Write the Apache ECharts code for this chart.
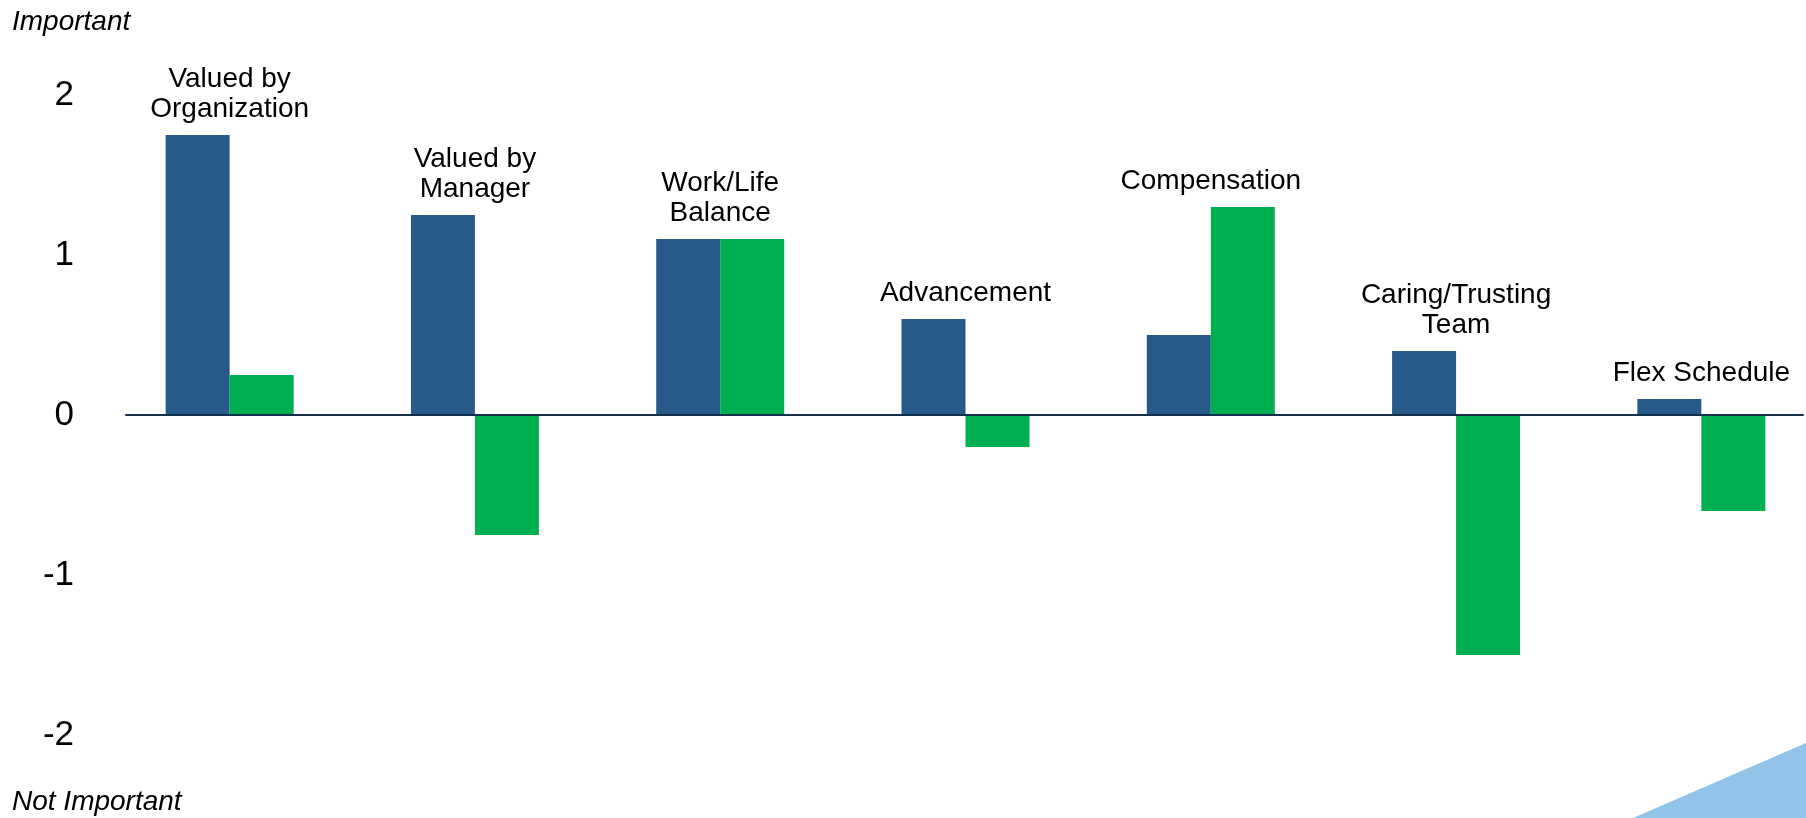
<!DOCTYPE html>
<html>
<head>
<meta charset="utf-8">
<script src="https://cdn.jsdelivr.net/npm/echarts@6/dist/echarts.min.js"></script>
<style>
  html, body { margin: 0; padding: 0; background: #ffffff; }
  #chart { width: 1806px; height: 818px; }
</style>
</head>
<body>
<div id="chart"></div>
<script>
// Factor names (category axis)
const categories = [
  'Valued by\nOrganization',
  'Valued by\nManager',
  'Work/Life\nBalance',
  'Advancement',
  'Compensation',
  'Caring/Trusting\nTeam',
  'Flex Schedule'
];
// Importance scores per factor for the two groups
const blueValues  = [1.75, 1.25, 1.1, 0.6, 0.5, 0.4, 0.1];
const greenValues = [0.25, -0.75, 1.1, -0.2, 1.3, -1.5, -0.6];
// Value axis ticks
const yTicks = [-2, -1, 0, 1, 2];

// Each factor's name sits just above the taller of its two bars
const labelAnchors = blueValues.map((v, i) => Math.max(v, greenValues[i], 0));

const FONT = '"Liberation Sans", Arial, Helvetica, sans-serif';
const chart = echarts.init(document.getElementById('chart'), null, { renderer: 'canvas' });

chart.setOption({
  backgroundColor: '#ffffff',
  animation: false,
  textStyle: { fontFamily: FONT },
  grid: [
    // bar area: the last category band runs past the right edge of the page
    { left: 107, width: 1717, top: 95, bottom: 83, containLabel: false, outerBoundsMode: 'none' },
    // baseline area
    { left: 126, right: 3, top: 95, bottom: 83, containLabel: false, outerBoundsMode: 'none' }
  ],
  xAxis: [
    {
      type: 'category',
      gridIndex: 0,
      data: categories,
      axisLine: { show: false },
      axisTick: { show: false },
      axisLabel: { show: false },
      splitLine: { show: false }
    },
    {
      // zero baseline drawn over the bars
      type: 'category',
      gridIndex: 1,
      data: [''],
      z: 10,
      axisLine: { show: true, onZero: true, lineStyle: { color: '#13304d', width: 2 } },
      axisTick: { show: false },
      axisLabel: { show: false },
      splitLine: { show: false }
    }
  ],
  yAxis: [
    {
      type: 'value',
      gridIndex: 0,
      min: yTicks[0],
      max: yTicks[yTicks.length - 1],
      interval: 1,
      axisLine: { show: false },
      axisTick: { show: false },
      splitLine: { show: false },
      axisLabel: {
        color: '#000000',
        fontSize: 35,
        fontFamily: FONT,
        margin: 33,
        padding: [4, 0, 0, 0]
      }
    },
    {
      type: 'value',
      gridIndex: 1,
      min: yTicks[0],
      max: yTicks[yTicks.length - 1],
      show: false
    }
  ],
  series: [
    {
      type: 'bar',
      name: 'blue',
      xAxisIndex: 0,
      yAxisIndex: 0,
      data: blueValues,
      barWidth: 64,
      barGap: '0%',
      itemStyle: { color: '#275a88' }
    },
    {
      type: 'bar',
      name: 'green',
      xAxisIndex: 0,
      yAxisIndex: 0,
      data: greenValues,
      barWidth: 64,
      barGap: '0%',
      itemStyle: { color: '#00b050' }
    },
    {
      type: 'scatter',
      name: 'names',
      xAxisIndex: 0,
      yAxisIndex: 0,
      data: labelAnchors,
      symbolSize: 0,
      silent: true,
      itemStyle: { opacity: 1 },
      label: {
        show: true,
        position: 'top',
        distance: 11,
        formatter: (p) => categories[p.dataIndex],
        color: '#000000',
        opacity: 1,
        fontSize: 28,
        lineHeight: 30,
        fontFamily: FONT,
        align: 'center'
      }
    }
  ],
  graphic: [
    {
      type: 'text',
      left: 12,
      top: 8,
      style: {
        text: 'Important',
        fill: '#000000',
        font: 'italic 28px ' + FONT
      }
    },
    {
      type: 'text',
      left: 12,
      top: 788,
      style: {
        text: 'Not Important',
        fill: '#000000',
        font: 'italic 28px ' + FONT
      }
    },
    {
      type: 'polygon',
      shape: { points: [[1806, 743], [1633, 818], [1806, 818]] },
      style: { fill: '#92c3e8' },
      silent: true
    }
  ]
});
</script>
</body>
</html>
